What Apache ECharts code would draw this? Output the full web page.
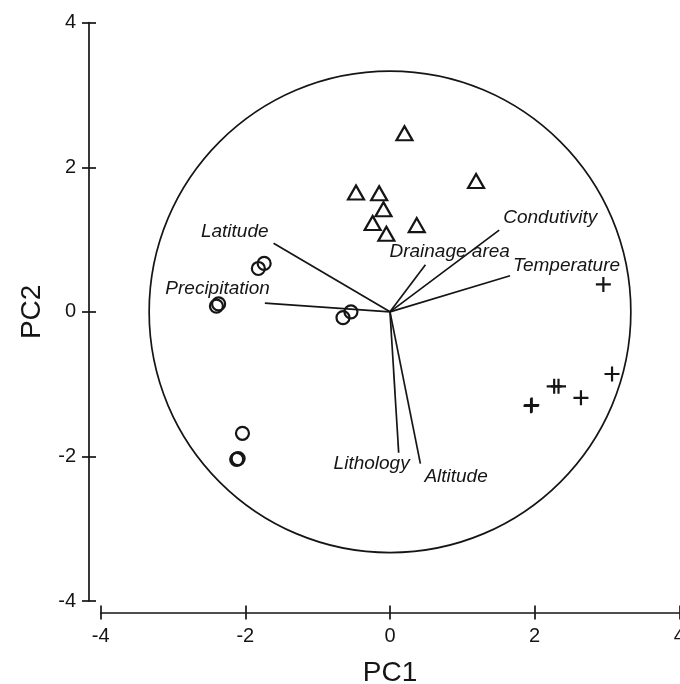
<!DOCTYPE html>
<html>
<head>
<meta charset="utf-8">
<script src="https://cdn.jsdelivr.net/npm/echarts@6/dist/echarts.min.js"></script>
<style>
  html, body { margin: 0; padding: 0; background: #fff; }
  #chart { width: 680px; height: 684px; }
</style>
</head>
<body>
<div id="chart"></div>
<script>
// PCA biplot: site scores (three groups) and variable loadings
const groupTriangle = [
  [0.20, 2.47], [1.19, 1.81], [-0.47, 1.65], [-0.15, 1.64],
  [-0.09, 1.42], [-0.24, 1.23], [-0.05, 1.08], [0.37, 1.20]
];
const groupCircle = [
  [-1.82, 0.60], [-1.74, 0.67], [-2.40, 0.08], [-2.37, 0.11],
  [-0.65, -0.08], [-0.54, 0.00], [-2.04, -1.68], [-2.12, -2.04], [-2.10, -2.03]
];
const groupCross = [
  [2.95, 0.38], [3.07, -0.86], [2.27, -1.03], [2.33, -1.03],
  [2.64, -1.19], [1.95, -1.30], [1.96, -1.29]
];
const loadingNames = ['Latitude', 'Precipitation', 'Drainage area', 'Condutivity', 'Temperature', 'Lithology', 'Altitude'];
const loadingX = [-1.61, -1.73, 0.49, 1.51, 1.66, 0.12, 0.42];
const loadingY = [0.95, 0.12, 0.65, 1.13, 0.50, -1.95, -2.10];
const circleRadius = [3.33];
const axisTicks = [-4, -2, 0, 2, 4];

// label placement of each loading name, in pixels from the arrow tip
const labelPlacement = {
  'Latitude':      { dx: -5,  dy: -11, align: 'right' },
  'Precipitation': { dx: 5,   dy: -14, align: 'right' },
  'Drainage area': { dx: -36, dy: -13, align: 'left' },
  'Condutivity':   { dx: 4,   dy: -12, align: 'left' },
  'Temperature':   { dx: 3,   dy: -10, align: 'left' },
  'Lithology':     { dx: 11,  dy: 11,  align: 'right' },
  'Altitude':      { dx: 4,   dy: 13,  align: 'left' }
};

const FONT = '"Liberation Sans", Arial, Helvetica, sans-serif';
const INK = '#151515';
const plusPath = 'path://M0,6.4H6.4V0H8.6V6.4H15V8.6H8.6V15H6.4V8.6H0Z';

const loadings = loadingNames.map((n, i) => [loadingX[i], loadingY[i], i]);

function axisCommon(extra) {
  return Object.assign({
    type: 'value', min: axisTicks[0], max: axisTicks[axisTicks.length - 1], interval: 2,
    splitLine: { show: false },
    axisLine: { show: true, onZero: false, lineStyle: { color: INK, width: 1.7 } },
    axisTick: { show: true, length: 7, lineStyle: { color: INK, width: 1.7 } }
  }, extra);
}

const chart = echarts.init(document.getElementById('chart'), null, { renderer: 'canvas' });
chart.setOption({
  animation: false,
  backgroundColor: '#ffffff',
  grid: { left: 100.7, right: 0.7, top: 22.7, bottom: 83, containLabel: false, outerBoundsMode: 'none' },
  xAxis: [
    axisCommon({
      position: 'bottom', offset: 11.6,
      name: 'PC1', nameLocation: 'middle', nameGap: 47,
      nameTextStyle: { fontFamily: FONT, fontSize: 28, color: INK },
      axisLabel: { fontFamily: FONT, fontSize: 20, color: INK, margin: 14 }
    }),
    axisCommon({
      position: 'bottom', offset: 11.6,
      axisLine: { show: false, onZero: false },
      axisTick: { show: true, inside: true, length: 7, lineStyle: { color: INK, width: 1.7 } },
      axisLabel: { show: false }
    })
  ],
  yAxis: [
    axisCommon({
      position: 'left', offset: 11.7,
      name: 'PC2', nameLocation: 'middle', nameGap: 43, nameRotate: 90,
      nameTextStyle: { fontFamily: FONT, fontSize: 28, color: INK },
      axisLabel: { fontFamily: FONT, fontSize: 20, color: INK, margin: 13 }
    }),
    axisCommon({
      position: 'left', offset: 11.7,
      axisLine: { show: false, onZero: false },
      axisTick: { show: true, inside: true, length: 7, lineStyle: { color: INK, width: 1.7 } },
      axisLabel: { show: false }
    })
  ],
  series: [
    {
      // correlation circle
      type: 'custom',
      data: [[0, 0, circleRadius[0]]],
      silent: true,
      renderItem: function (params, api) {
        const c = api.coord([api.value(0), api.value(1)]);
        const s = api.size([api.value(2), api.value(2)]);
        return {
          type: 'ellipse',
          shape: { cx: c[0], cy: c[1], rx: s[0], ry: s[1] },
          style: { fill: 'none', stroke: INK, lineWidth: 1.7 }
        };
      }
    },
    {
      // loading vectors with their names
      type: 'custom',
      data: loadings,
      silent: true,
      renderItem: function (params, api) {
        const o = api.coord([0, 0]);
        const e = api.coord([api.value(0), api.value(1)]);
        const name = loadingNames[api.value(2)];
        const p = labelPlacement[name];
        return {
          type: 'group',
          children: [
            {
              type: 'line',
              shape: { x1: o[0], y1: o[1], x2: e[0], y2: e[1] },
              style: { stroke: INK, lineWidth: 1.7 }
            },
            {
              type: 'text',
              x: e[0] + p.dx, y: e[1] + p.dy,
              style: {
                text: name, fill: INK, align: p.align, verticalAlign: 'middle',
                font: 'italic 19px ' + FONT
              }
            }
          ]
        };
      }
    },
    {
      type: 'scatter', data: groupTriangle, symbol: 'triangle', symbolSize: [16, 14],
      itemStyle: { color: 'rgba(255,255,255,0)', borderColor: INK, borderWidth: 2.2, opacity: 1 }
    },
    {
      type: 'scatter', data: groupCircle, symbol: 'circle', symbolSize: 13,
      itemStyle: { color: 'rgba(255,255,255,0)', borderColor: INK, borderWidth: 2.2, opacity: 1 }
    },
    {
      type: 'scatter', data: groupCross, symbol: plusPath, symbolSize: 15,
      itemStyle: { color: INK, opacity: 1 }
    }
  ]
});
</script>
</body>
</html>
